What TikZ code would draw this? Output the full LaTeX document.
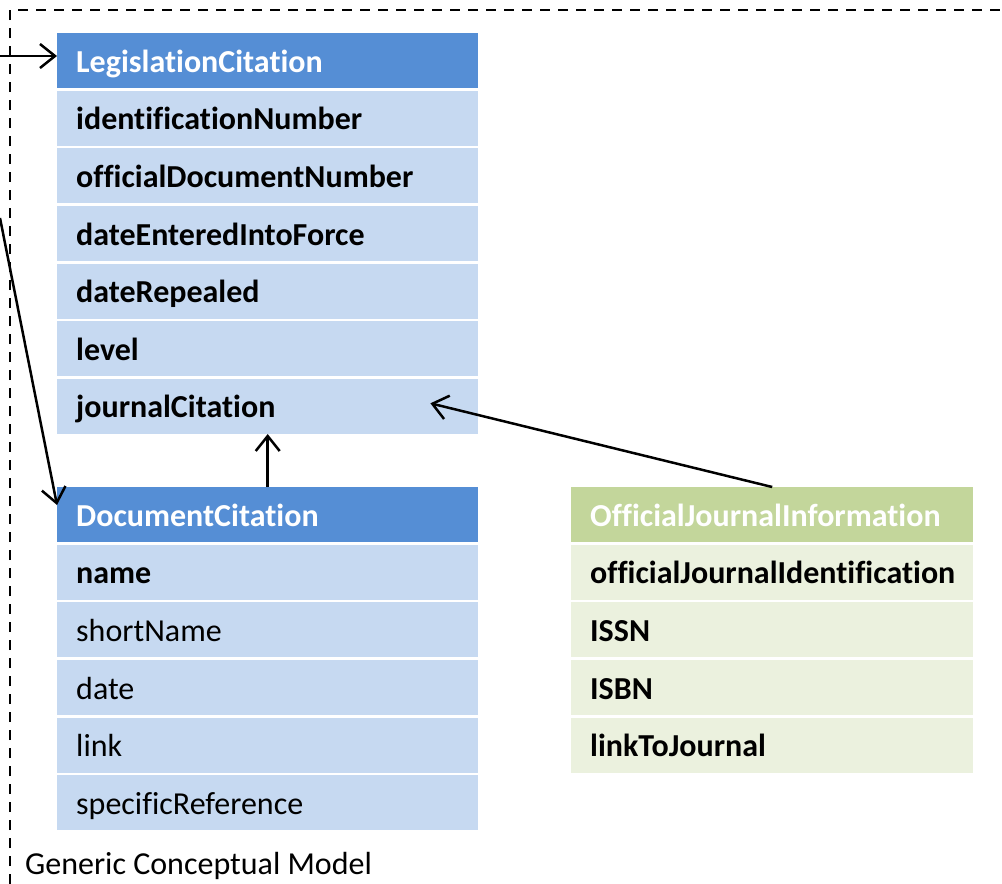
\documentclass[tikz,border=0pt]{standalone}
\usepackage{fontspec}
\setmainfont[Ligatures=NoCommon]{Carlito}
\usetikzlibrary{arrows.meta}
\definecolor{hdrblue}{HTML}{558ED5}
\definecolor{rowblue}{HTML}{C6D9F1}
\definecolor{hdrgreen}{HTML}{C3D69B}
\definecolor{rowgreen}{HTML}{EBF1DE}
\begin{document}
\begin{tikzpicture}[x=1pt,y=-1pt,
  box/.style={anchor=north west, minimum height=55pt, inner xsep=19pt, inner ysep=0pt,
    align=left, text height=23pt, text depth=0pt},
  colL/.style={text width=383pt},
  colR/.style={text width=364pt},
  bf/.style={font=\fontsize{32}{32}\selectfont\bfseries},
  rm/.style={font=\fontsize{32}{32}\selectfont},
  hblue/.style={box, colL, bf, fill=hdrblue, text=white},
  rblue/.style={box, colL, fill=rowblue},
  hgreen/.style={box, colR, bf, fill=hdrgreen, text=white},
  rgreen/.style={box, colR, bf, fill=rowgreen},
  conn/.style={line width=2.5pt, -{Straight Barb[length=15pt,width=24pt,line width=2.5pt]}},
  frame/.style={line width=2.5pt, dash pattern=on 10pt off 8pt}
]
\useasboundingbox (0,0) rectangle (1002,884);
\draw[frame] (10,884) -- (10,10) -- (1002,10);

% LegislationCitation
\node[hblue] (leg) at (57,33) {LegislationCitation};
\node[rblue,bf] (leg1) at (57,90.6) {identificationNumber};
\node[rblue,bf] (leg2) at (57,148.2) {officialDocumentNumber};
\node[rblue,bf] (leg3) at (57,205.8) {dateEnteredIntoForce};
\node[rblue,bf] (leg4) at (57,263.4) {dateRepealed};
\node[rblue,bf] (leg5) at (57,321) {level};
\node[rblue,bf] (leg6) at (57,378.6) {journalCitation};

% DocumentCitation
\node[hblue] (doc) at (57,487) {DocumentCitation};
\node[rblue,bf] (doc1) at (57,544.6) {name};
\node[rblue,rm] (doc2) at (57,602.2) {shortName};
\node[rblue,rm] (doc3) at (57,659.8) {date};
\node[rblue,rm] (doc4) at (57,717.4) {link};
\node[rblue,rm] (doc5) at (57,775) {specificReference};

% OfficialJournalInformation
\node[hgreen] (oji) at (571,487) {OfficialJournalInformation};
\node[rgreen] (oji1) at (571,544.6) {officialJournalIdentification};
\node[rgreen] (oji2) at (571,602.2) {ISSN};
\node[rgreen] (oji3) at (571,659.8) {ISBN};
\node[rgreen] (oji4) at (571,717.4) {linkToJournal};

\node[anchor=base west, inner sep=0pt, rm] (gcm) at (25,874) {Generic Conceptual Model};

% connectors
\coordinate (in1) at (0,56);
\coordinate (in2) at (0,218);
\draw[conn] (in1) -- (in1 -| leg.west);
\draw[conn] (in2) -- ([yshift=-18pt]doc.north west);
\draw[conn] (doc.north) -- (leg6.south);
\draw[conn] (oji.north) -- ([xshift=-48pt,yshift=3pt]leg6.east);
\end{tikzpicture}
\end{document}
